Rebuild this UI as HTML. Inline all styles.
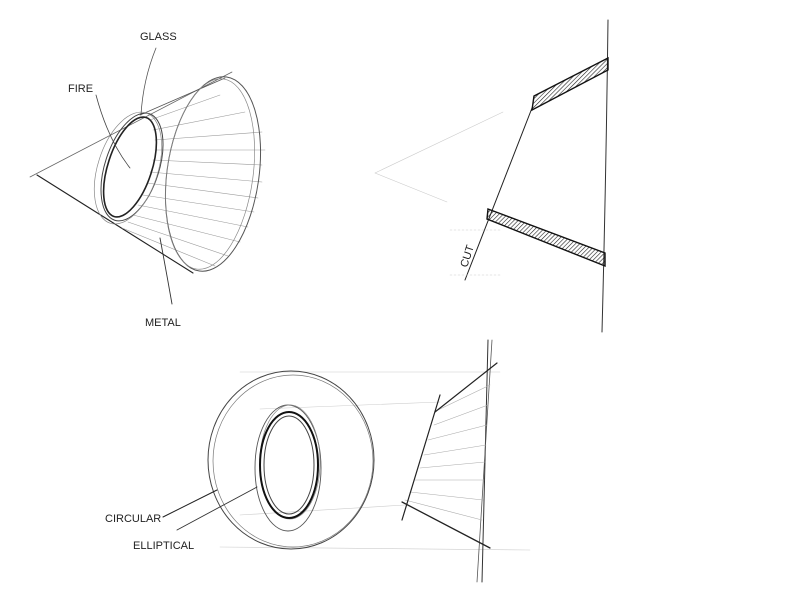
<!DOCTYPE html>
<html><head><style>
html,body{margin:0;padding:0;background:#fff;}
svg{display:block}
text{font-family:"Liberation Sans",sans-serif;font-size:11px;fill:#222;}
</style></head><body>
<svg width="800" height="600" viewBox="0 0 800 600" xmlns="http://www.w3.org/2000/svg">
<g fill="none" stroke-linecap="round">
<line x1="30" y1="177" x2="232" y2="72" stroke="#666" stroke-width="0.8"/>
<line x1="37" y1="175" x2="193" y2="273" stroke="#222" stroke-width="1.1"/>
<line x1="140" y1="115" x2="225" y2="78" stroke="#555" stroke-width="0.8"/>
<g stroke="#999" stroke-width="0.6">
<line x1="150" y1="120" x2="220" y2="95"/><line x1="153" y1="130" x2="245" y2="112"/>
<line x1="155" y1="140" x2="262" y2="132"/><line x1="155" y1="150" x2="265" y2="150"/>
<line x1="153" y1="160" x2="262" y2="165"/><line x1="150" y1="172" x2="262" y2="182"/>
<line x1="147" y1="183" x2="258" y2="198"/><line x1="143" y1="195" x2="254" y2="212"/>
<line x1="138" y1="205" x2="248" y2="227"/><line x1="133" y1="215" x2="240" y2="242"/>
<line x1="128" y1="222" x2="228" y2="256"/><line x1="122" y1="228" x2="215" y2="266"/>
</g>
<ellipse cx="130" cy="167" rx="22" ry="52" transform="rotate(18 130 167)" stroke="#222" stroke-width="1.6"/>
<ellipse cx="132" cy="167" rx="27" ry="56" transform="rotate(18 132 167)" stroke="#444" stroke-width="1"/>
<ellipse cx="128" cy="168" rx="30" ry="58" transform="rotate(18 128 168)" stroke="#888" stroke-width="0.7"/>
<ellipse cx="213" cy="174" rx="46" ry="98" transform="rotate(8 213 174)" stroke="#555" stroke-width="1"/>
<ellipse cx="210" cy="174" rx="43" ry="96" transform="rotate(8 210 174)" stroke="#888" stroke-width="0.7"/>
<path d="M96 95 Q108 140 130 168" stroke="#444" stroke-width="0.8"/>
<path d="M156 48 Q143 80 141 115" stroke="#555" stroke-width="0.8"/>
<path d="M172 304 Q166 270 160 238" stroke="#333" stroke-width="0.9"/>

<path d="M608 20 Q606 180 602 332" stroke="#333" stroke-width="1"/>
<line x1="532" y1="108" x2="465" y2="280" stroke="#222" stroke-width="1"/>
<line x1="375" y1="173" x2="503" y2="112" stroke="#ccc" stroke-width="0.6"/>
<line x1="375" y1="173" x2="447" y2="202" stroke="#ccc" stroke-width="0.6"/>
<line x1="450" y1="230" x2="500" y2="230" stroke="#ccc" stroke-width="0.6" stroke-dasharray="2 2"/>
<line x1="450" y1="275" x2="500" y2="275" stroke="#ccc" stroke-width="0.6" stroke-dasharray="2 2"/>
<defs><pattern id="h" width="3" height="3" patternUnits="userSpaceOnUse" patternTransform="rotate(45)"><line x1="0" y1="0" x2="0" y2="3" stroke="#222" stroke-width="1.2"/></pattern></defs>
<polygon points="534,96 608,58 608,70 532,110" fill="url(#h)" stroke="#111" stroke-width="1.4"/>
<polygon points="488,209 605,253 605,266 487,219" fill="url(#h)" stroke="#111" stroke-width="1.4"/>

<g stroke="#ccc" stroke-width="0.6">
<line x1="240" y1="372" x2="500" y2="372"/><line x1="260" y1="409" x2="440" y2="402"/>
<line x1="240" y1="515" x2="405" y2="505"/><line x1="220" y1="547" x2="530" y2="550"/>
</g>
<ellipse cx="291" cy="460" rx="83" ry="89" stroke="#444" stroke-width="1"/>
<ellipse cx="293" cy="461" rx="80" ry="86" stroke="#777" stroke-width="0.7"/>
<ellipse cx="288" cy="468" rx="33" ry="63" stroke="#555" stroke-width="0.9"/>
<ellipse cx="290" cy="462" rx="30" ry="57" stroke="#888" stroke-width="0.7"/>
<ellipse cx="289" cy="465" rx="29" ry="53" stroke="#111" stroke-width="2"/>
<ellipse cx="289" cy="465" rx="25" ry="49" stroke="#444" stroke-width="1"/>
<line x1="163" y1="517" x2="217" y2="490" stroke="#222" stroke-width="1"/>
<line x1="177" y1="530" x2="257" y2="487" stroke="#333" stroke-width="0.9"/>
<line x1="488" y1="340" x2="482" y2="582" stroke="#333" stroke-width="1"/>
<line x1="492" y1="340" x2="477" y2="582" stroke="#555" stroke-width="0.8"/>
<g stroke="#aaa" stroke-width="0.6">
<line x1="438" y1="410" x2="490" y2="385"/><line x1="434" y1="425" x2="488" y2="405"/>
<line x1="428" y1="440" x2="487" y2="425"/><line x1="424" y1="455" x2="486" y2="445"/>
<line x1="420" y1="468" x2="485" y2="462"/><line x1="415" y1="480" x2="484" y2="480"/>
<line x1="410" y1="492" x2="483" y2="500"/><line x1="405" y1="500" x2="482" y2="520"/>
</g>
<line x1="435" y1="412" x2="497" y2="363" stroke="#222" stroke-width="1.2"/>
<line x1="440" y1="395" x2="402" y2="520" stroke="#222" stroke-width="1.2"/>
<line x1="402" y1="502" x2="490" y2="548" stroke="#222" stroke-width="1.3"/>
</g>
<text x="140" y="40">GLASS</text>
<text x="68" y="92">FIRE</text>
<text x="145" y="326">METAL</text>
<text x="0" y="0" transform="translate(467,268) rotate(-72)">CUT</text>
<text x="105" y="522" font-size="10">CIRCULAR</text>
<text x="133" y="549" font-size="10">ELLIPTICAL</text>
</svg>
</body></html>
